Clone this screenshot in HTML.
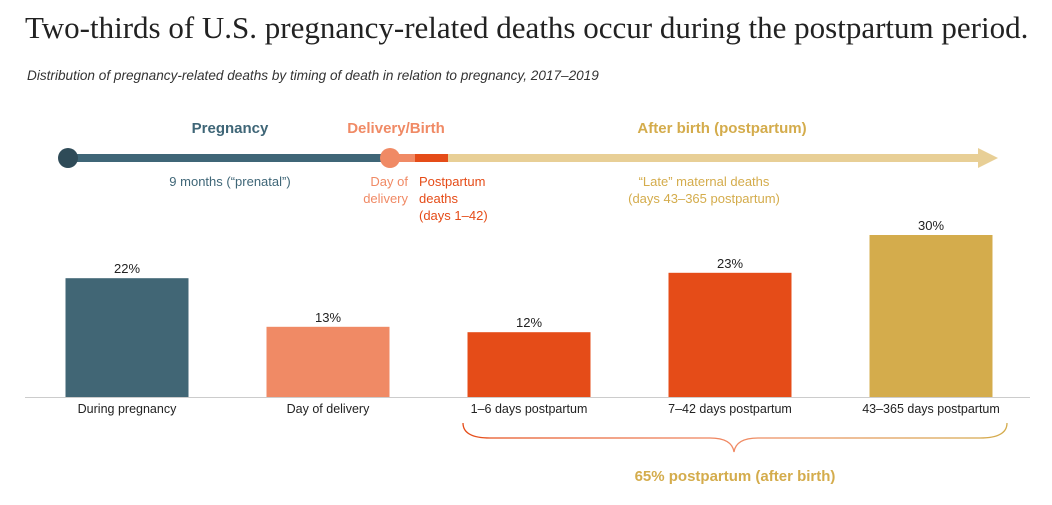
<!DOCTYPE html>
<html><head><meta charset="utf-8"><style>
body{margin:0;width:1052px;height:500px;background:#fff;overflow:hidden;font-family:"Liberation Sans",sans-serif;}
</style></head><body>
<svg width="1052" height="500" xmlns="http://www.w3.org/2000/svg">
<text x="25" y="38" font-family="Liberation Serif,serif" font-size="31" fill="#222">Two-thirds of U.S. pregnancy-related deaths occur during the postpartum period.</text>
<text x="27" y="80" font-size="13.6" font-style="italic" fill="#333">Distribution of pregnancy-related deaths by timing of death in relation to pregnancy, 2017–2019</text>
<g>
<line x1="68" y1="158" x2="390" y2="158" stroke="#3f6677" stroke-width="8"/>
<line x1="390" y1="158" x2="415" y2="158" stroke="#f08a65" stroke-width="8"/>
<line x1="415" y1="158" x2="448" y2="158" stroke="#e54c18" stroke-width="8"/>
<line x1="448" y1="158" x2="982" y2="158" stroke="#e8cf96" stroke-width="8"/>
<polygon points="978,148 998,158 978,168" fill="#e8cf96"/>
<circle cx="68" cy="158" r="10" fill="#2f4b58"/>
<circle cx="390" cy="158" r="10" fill="#f08a65"/>
<text x="230" y="133" text-anchor="middle" font-size="15" font-weight="bold" fill="#3f6677">Pregnancy</text>
<text x="396" y="133" text-anchor="middle" font-size="15" font-weight="bold" fill="#f08a65">Delivery/Birth</text>
<text x="722" y="133" text-anchor="middle" font-size="15" font-weight="bold" fill="#d4ac4c">After birth (postpartum)</text>
<text x="230" y="186" text-anchor="middle" font-size="13" fill="#3f6677">9 months (“prenatal”)</text>
<text x="408" y="186" text-anchor="end" font-size="13" fill="#f08a65">Day of</text>
<text x="408" y="203" text-anchor="end" font-size="13" fill="#f08a65">delivery</text>
<text x="419" y="186" font-size="13" fill="#e54c18">Postpartum</text>
<text x="419" y="203" font-size="13" fill="#e54c18">deaths</text>
<text x="419" y="220" font-size="13" fill="#e54c18">(days 1–42)</text>
<text x="704" y="186" text-anchor="middle" font-size="13" fill="#d4ac4c">“Late” maternal deaths</text>
<text x="704" y="203" text-anchor="middle" font-size="13" fill="#d4ac4c">(days 43–365 postpartum)</text>
</g>
<line x1="25" y1="397.5" x2="1030" y2="397.5" stroke="#ccc" stroke-width="1"/>
<g id="bars"></g>
<defs><linearGradient id="bg" x1="0" x2="1"><stop offset="0" stop-color="#e54c18"/><stop offset="0.5" stop-color="#f08a65"/><stop offset="1" stop-color="#d4ac4c"/></linearGradient></defs>
<path d="M463,423 Q463,438 490,438 L710,438 Q732,438 734,452 Q736,438 758,438 L980,438 Q1007,438 1007,423" fill="none" stroke="url(#bg)" stroke-width="1.3"/>
<text x="735" y="481" text-anchor="middle" font-size="15" font-weight="bold" fill="#d4ac4c">65% postpartum (after birth)</text>
</svg>
<script>
const categories=["During pregnancy","Day of delivery","1–6 days postpartum","7–42 days postpartum","43–365 days postpartum"];
const values=[22,13,12,23,30];
const labels=["22%","13%","12%","23%","30%"];
const colors=["#416675","#f08a65","#e54c18","#e54c18","#d4ac4c"];
const ns="http://www.w3.org/2000/svg";
const g=document.getElementById('bars');
const base=397, scale=5.4, x0=127, step=201, bw=123;
const y=v=>base-v*scale, x=i=>x0+i*step;
values.forEach((v,i)=>{
 const r=document.createElementNS(ns,'rect');
 r.setAttribute('x',x(i)-bw/2);r.setAttribute('y',y(v));r.setAttribute('width',bw);r.setAttribute('height',base-y(v));r.setAttribute('fill',colors[i]);
 
 
 g.appendChild(r);
 const t=document.createElementNS(ns,'text');
 t.setAttribute('x',x(i));t.setAttribute('y',y(v)-5);t.setAttribute('text-anchor','middle');t.setAttribute('font-size','13');t.setAttribute('fill','#222');
 t.textContent=labels[i];
 
 
 g.appendChild(t);
 const c=document.createElementNS(ns,'text');
 c.setAttribute('x',x(i));c.setAttribute('y',413);c.setAttribute('text-anchor','middle');c.setAttribute('font-size','12.5');c.setAttribute('fill','#222');
 c.textContent=categories[i];
 
 
 g.appendChild(c);
});
</script>
</body></html>
